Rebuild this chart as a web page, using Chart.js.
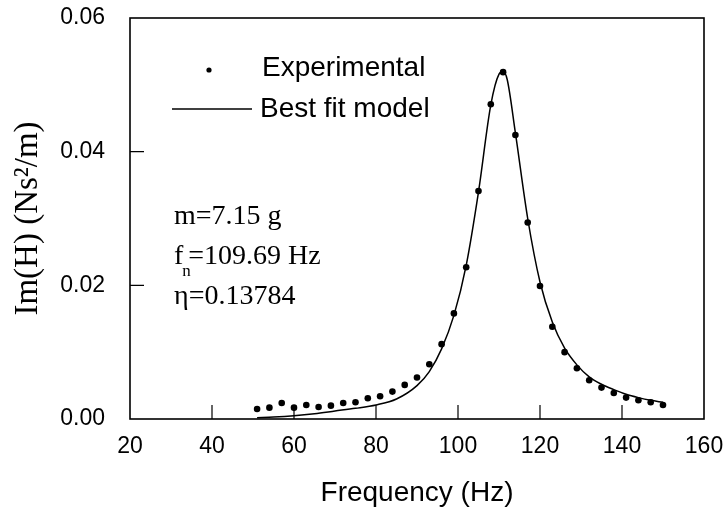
<!DOCTYPE html>
<html>
<head>
<meta charset="utf-8">
<script src="https://cdn.jsdelivr.net/npm/chart.js@4.4.0/dist/chart.umd.min.js"></script>
<style>
  html, body { margin: 0; padding: 0; background: #fff; }
  #wrap { width: 725px; height: 512px; }
</style>
</head>
<body>
<div id="wrap"><canvas id="freqChart" width="725" height="512"></canvas></div>
<script>
// measured points
const expFreq = [51, 54, 57, 60, 63, 66, 69, 72, 75, 78, 81, 84, 87, 90, 93,
    96, 99, 102, 105, 108, 111, 114, 117, 120, 123, 126, 129, 132, 135, 138, 141, 144, 147, 150];
const expImH = [0.0015, 0.0017, 0.0024, 0.0017, 0.0021, 0.0018, 0.0020, 0.0024, 0.0025, 0.0031,
    0.0034, 0.0041, 0.0051, 0.0062, 0.0082, 0.0112, 0.0158, 0.0227, 0.0341, 0.0471, 0.0519,
    0.0425, 0.0294, 0.0199, 0.0138, 0.0100, 0.0076, 0.0058, 0.0047, 0.0039, 0.0032, 0.0028,
    0.0025, 0.0021];

// fitted model curve
const modelFreq = [51, 55, 60, 65, 70, 75, 80, 85, 90, 93, 96, 99, 102, 105, 108, 110, 111,
    112, 114, 117, 120, 123, 126, 129, 132, 135, 138, 141, 144, 147, 150];
const modelImH = [0.0002, 0.0003, 0.0005, 0.0008, 0.0012, 0.0016, 0.0021, 0.0030, 0.0050,
    0.0071, 0.0105, 0.0155, 0.0230, 0.0340, 0.0470, 0.0516, 0.0520, 0.0508, 0.0428, 0.0300,
    0.0205, 0.0145, 0.0106, 0.0081, 0.0063, 0.0052, 0.0044, 0.0037, 0.0032, 0.0028, 0.0025];

const xTicks = [20, 40, 60, 80, 100, 120, 140, 160];
const yTicks = [0.00, 0.02, 0.04, 0.06];

const SANS = '"Liberation Sans", Arial, sans-serif';
const SERIF = '"Liberation Serif", "Times New Roman", serif';

const toXY = (xs, ys) => xs.map((x, i) => ({ x: x, y: ys[i] }));

// frame, inward ticks, legend and the parameter text
const extras = {
    id: 'extras',
    afterDraw(chart) {
        const ctx = chart.ctx;
        const a = chart.chartArea;
        const xs = chart.scales.x, ys = chart.scales.y;
        ctx.save();
        ctx.strokeStyle = '#000';
        ctx.lineWidth = 1.6;
        ctx.strokeRect(a.left, a.top, a.right - a.left, a.bottom - a.top);

        ctx.lineWidth = 1.2;
        ctx.beginPath();
        xTicks.slice(1, -1).forEach(v => {
            const px = xs.getPixelForValue(v);
            ctx.moveTo(px, a.bottom);
            ctx.lineTo(px, a.bottom - 14);
        });
        yTicks.slice(1, -1).forEach(v => {
            const py = ys.getPixelForValue(v);
            ctx.moveTo(a.left, py);
            ctx.lineTo(a.left + 14, py);
        });
        ctx.stroke();

        // legend
        ctx.fillStyle = '#000';
        ctx.beginPath();
        ctx.arc(209, 70, 2.6, 0, Math.PI * 2);
        ctx.fill();
        ctx.lineWidth = 1.3;
        ctx.beginPath();
        ctx.moveTo(172, 109);
        ctx.lineTo(252, 109);
        ctx.stroke();
        ctx.font = '28px ' + SANS;
        ctx.textBaseline = 'middle';
        ctx.textAlign = 'left';
        ctx.fillText('Experimental', 262, 68);
        ctx.fillText('Best fit model', 260, 109);

        // parameters
        ctx.font = '28px ' + SERIF;
        ctx.textBaseline = 'alphabetic';
        ctx.fillText('m=7.15 g', 174, 224);
        ctx.fillText('f', 174, 264);
        const fw = ctx.measureText('f').width;
        ctx.font = '17px ' + SERIF;
        ctx.fillText('n', 174 + fw - 1, 276);
        ctx.font = '28px ' + SERIF;
        ctx.fillText('=109.69 Hz', 174 + fw + 5, 264);
        ctx.fillText('\u03b7=0.13784', 174, 304);
        ctx.restore();
    }
};

const CHART = document.getElementById('freqChart');
let freqChart = new Chart(CHART, {
    type: 'scatter',
    data: {
        datasets: [{
            label: 'Experimental',
            data: toXY(expFreq, expImH),
            showLine: false,
            pointRadius: 3.3,
            pointBackgroundColor: '#000',
            pointBorderWidth: 0
        }, {
            label: 'Best fit model',
            data: toXY(modelFreq, modelImH),
            showLine: true,
            borderColor: '#000',
            borderWidth: 1.5,
            pointRadius: 0,
            cubicInterpolationMode: 'monotone'
        }]
    },
    options: {
        responsive: false,
        animation: false,
        layout: { padding: { top: 18, right: 21, left: 0, bottom: 0 } },
        plugins: {
            legend: { display: false },
            tooltip: { enabled: false }
        },
        scales: {
            x: {
                type: 'linear',
                min: 20,
                max: 160,
                afterBuildTicks: s => { s.ticks = xTicks.map(v => ({ value: v })); },
                afterFit: s => { s.height = 93; s.paddingLeft = 0; s.paddingRight = 0; },
                grid: { display: false },
                border: { display: false },
                ticks: { color: '#000', padding: 6, font: { family: SANS, size: 23 } },
                title: {
                    display: true,
                    text: 'Frequency (Hz)',
                    color: '#000',
                    font: { family: SANS, size: 28 },
                    padding: { top: 4, bottom: 2 }
                }
            },
            y: {
                min: 0,
                max: 0.06,
                afterBuildTicks: s => { s.ticks = yTicks.map(v => ({ value: v })); },
                afterFit: s => { s.width = 130; s.paddingTop = 0; s.paddingBottom = 0; },
                grid: { display: false },
                border: { display: false },
                ticks: {
                    color: '#000',
                    padding: 17,
                    font: { family: SANS, size: 23 },
                    callback: v => v.toFixed(2)
                },
                title: {
                    display: true,
                    text: 'Im(H) (Ns\u00b2/m)',
                    color: '#000',
                    font: { family: SERIF, size: 33 },
                    padding: { top: 9, bottom: 0 }
                }
            }
        }
    },
    plugins: [extras]
});
</script>
</body>
</html>
